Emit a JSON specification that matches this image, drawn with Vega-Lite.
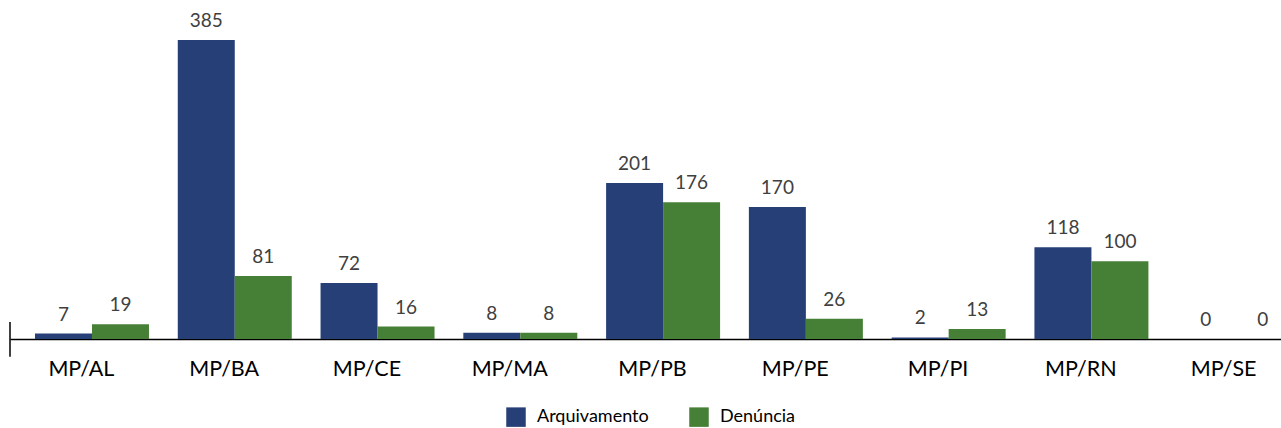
{
  "$schema": "https://vega.github.io/schema/vega-lite/v6.json",
  "width": 1271,
  "height": 299,
  "autosize": {"type": "none"},
  "padding": {"left": 10, "top": 40, "right": 0, "bottom": 89},
  "config": {"view": {"stroke": null}, "font": "Lato"},
  "data": {
    "values": [
      {"orgao": "MP/AL", "tipo": "Arquivamento", "valor": 7},
      {"orgao": "MP/AL", "tipo": "Denúncia", "valor": 19},
      {"orgao": "MP/BA", "tipo": "Arquivamento", "valor": 385},
      {"orgao": "MP/BA", "tipo": "Denúncia", "valor": 81},
      {"orgao": "MP/CE", "tipo": "Arquivamento", "valor": 72},
      {"orgao": "MP/CE", "tipo": "Denúncia", "valor": 16},
      {"orgao": "MP/MA", "tipo": "Arquivamento", "valor": 8},
      {"orgao": "MP/MA", "tipo": "Denúncia", "valor": 8},
      {"orgao": "MP/PB", "tipo": "Arquivamento", "valor": 201},
      {"orgao": "MP/PB", "tipo": "Denúncia", "valor": 176},
      {"orgao": "MP/PE", "tipo": "Arquivamento", "valor": 170},
      {"orgao": "MP/PE", "tipo": "Denúncia", "valor": 26},
      {"orgao": "MP/PI", "tipo": "Arquivamento", "valor": 2},
      {"orgao": "MP/PI", "tipo": "Denúncia", "valor": 13},
      {"orgao": "MP/RN", "tipo": "Arquivamento", "valor": 118},
      {"orgao": "MP/RN", "tipo": "Denúncia", "valor": 100},
      {"orgao": "MP/SE", "tipo": "Arquivamento", "valor": 0},
      {"orgao": "MP/SE", "tipo": "Denúncia", "valor": 0}
    ]
  },
  "layer": [
    {
      "mark": {"type": "bar"},
      "encoding": {
        "x": {
          "field": "orgao",
          "type": "nominal",
          "sort": null,
          "scale": {"range": [0, 1285], "paddingInner": 0, "paddingOuter": 0},
          "axis": {
            "title": null,
            "labelAngle": 0,
            "labelFontSize": 21.5,
            "labelColor": "#000000",
            "labelBaseline": "middle",
            "labelPadding": 30,
            "ticks": false,
            "tickSize": 0,
            "domainColor": "#000000",
            "domainWidth": 1.5
          }
        },
        "xOffset": {
          "field": "tipo",
          "type": "nominal",
          "sort": ["Arquivamento", "Denúncia"],
          "scale": {"paddingInner": 0, "paddingOuter": 0.2526, "align": 0.868}
        },
        "y": {
          "field": "valor",
          "type": "quantitative",
          "scale": {"domain": [0, 385], "nice": false},
          "axis": null
        },
        "color": {
          "field": "tipo",
          "type": "nominal",
          "sort": ["Arquivamento", "Denúncia"],
          "scale": {"domain": ["Arquivamento", "Denúncia"], "range": ["#263F77", "#467F36"]},
          "legend": {
            "title": null,
            "orient": "none",
            "legendX": 496,
            "legendY": 367,
            "direction": "horizontal",
            "padding": 0,
            "columnPadding": 40,
            "labelOffset": 11,
            "labelFontSize": 18,
            "labelColor": "#000000",
            "symbolType": "square",
            "symbolSize": 380,
            "symbolStrokeWidth": 0
          }
        }
      }
    },
    {
      "mark": {"type": "text", "dy": -19, "baseline": "middle", "fontSize": 19, "color": "#404040"},
      "encoding": {
        "x": {"field": "orgao", "type": "nominal", "sort": null},
        "xOffset": {"field": "tipo", "type": "nominal", "sort": ["Arquivamento", "Denúncia"]},
        "y": {"field": "valor", "type": "quantitative"},
        "text": {"field": "valor", "type": "quantitative"}
      }
    },
    {
      "data": {"values": [{"marca": "MP/AL"}]},
      "mark": {"type": "rule", "color": "#000000", "strokeWidth": 1.5},
      "encoding": {
        "x": {"field": "marca", "type": "nominal", "bandPosition": 0},
        "y": {"datum": -23, "type": "quantitative"},
        "y2": {"datum": 22}
      }
    }
  ]
}
